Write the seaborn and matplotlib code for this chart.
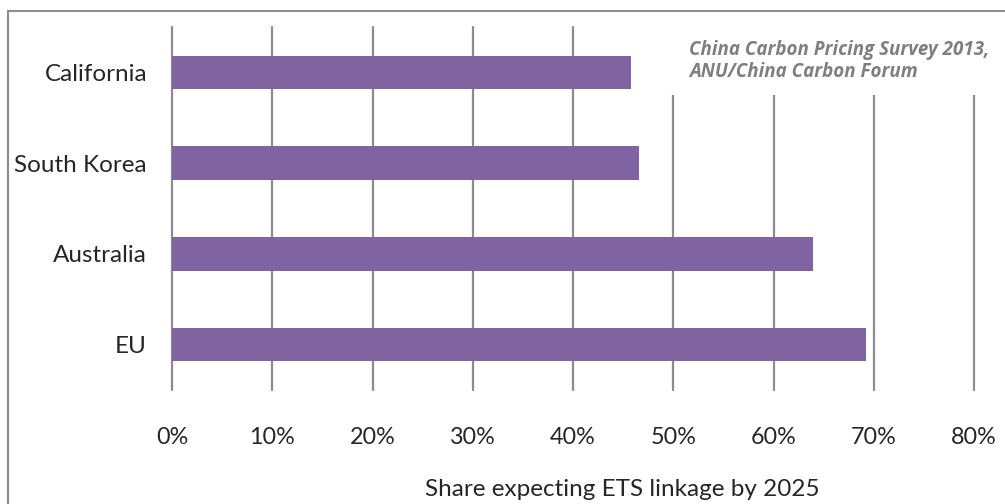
import numpy as np
import pandas as pd
import matplotlib
matplotlib.use("Agg")
import matplotlib.pyplot as plt
import seaborn as sns
from matplotlib.patches import Rectangle

regions = ["California", "South Korea", "Australia", "EU"]
share = [45.8, 46.6, 63.9, 69.2]
ticks = [0, 10, 20, 30, 40, 50, 60, 70, 80]

df = pd.DataFrame({"region": regions, "share": share})

sns.set_style("white")
plt.rcParams["font.family"] = ["Lato", "DejaVu Sans"]

fig = plt.figure(figsize=(10.05, 5.04), dpi=100)
ax = fig.add_axes([172/1005, 1-390/504, (974-172)/1005, (390-27)/504])

# vertical grid lines
for t in ticks:
    ax.axvline(t, color="#8c8c8c", lw=1.6, zorder=0, clip_on=False)

sns.barplot(data=df, x="share", y="region", orient="h", color="#8064A2",
            saturation=1, width=0.37, ax=ax, zorder=2, linewidth=0)

ax.set_xlim(0, 80)
ax.set_ylim(3.5, -0.5)
ax.set_xticks(ticks)
ax.set_xticklabels([f"{t}%" for t in ticks])
ax.tick_params(axis="x", length=0, pad=27, labelsize=16.8)
ax.tick_params(axis="y", length=0, pad=18, labelsize=17.5)
ax.set_xlabel("")
ax.set_ylabel("")
for s in ax.spines.values():
    s.set_visible(False)

fig.text(622/1005, 1-490/504, "Share expecting ETS linkage by 2025",
         ha="center", va="center", fontsize=17.5)

# white box behind the source note hides the upper grid
ax.add_patch(Rectangle((48, -0.6), 40, 0.85, facecolor="white",
                       edgecolor="none", zorder=1, clip_on=False))
ax.text(0.645, 0.965, "China Carbon Pricing Survey 2013,\nANU/China Carbon Forum",
        transform=ax.transAxes, ha="left", va="top", fontsize=13.5,
        style="italic", weight="bold", color="#7f7f7f", linespacing=1.15,
        family=["Open Sans", "DejaVu Sans"], zorder=3)

# chart border
fig.patches.append(Rectangle((8/1005, -0.1), 1.2, 1-11/504+0.1,
                             transform=fig.transFigure, fill=False,
                             edgecolor="#8c8c8c", lw=1.5))

fig.savefig("out.png", dpi=100)
